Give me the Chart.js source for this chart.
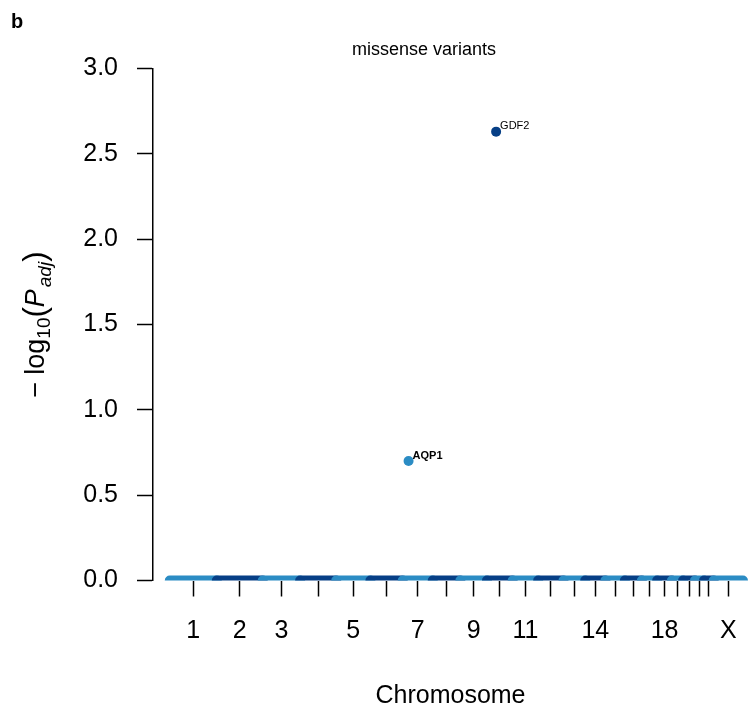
<!DOCTYPE html>
<html>
<head>
<meta charset="utf-8">
<title>missense variants</title>
<script src="https://cdn.jsdelivr.net/npm/chart.js@4"></script>
<style>
    body { margin: 0; background: #fff; }
    #wrap { width: 748px; height: 712px; }
</style>
</head>
<body>
<div id="wrap"><canvas id="manhattan" width="748" height="712"></canvas></div>
<script>
// chromosomes and their lengths (Mb, hg19)
var chromosomes = ['1', '2', '3', '4', '5', '6', '7', '8', '9', '10', '11', '12',
    '13', '14', '15', '16', '17', '18', '19', '20', '21', '22', 'X'];
var chrLengthMb = [249, 243, 198, 191, 181, 171, 159, 146, 141, 136, 135, 134,
    115, 107, 103, 90, 81, 78, 59, 63, 48, 51, 155];
var shownLabels = ['1', '2', '3', '5', '7', '9', '11', '14', '18', 'X'];

// genes that pass the threshold
var geneNames = ['AQP1', 'GDF2'];
var geneChr = ['7', '10'];
var genePosMb = [30.9, 48.4];
var geneLogP = [0.70, 2.63];

var yTicks = [0, 0.5, 1, 1.5, 2, 2.5, 3];

var LIGHT = '#2b8cc4';
var DARK = '#063f86';
var FONT = '"Liberation Sans", Arial, Helvetica, sans-serif';

(function () {
    var chrStart = [];
    var chrMid = [];
    var acc = 0;
    chrLengthMb.forEach(function (len) {
        chrStart.push(acc);
        chrMid.push(acc + len / 2);
        acc += len;
    });

    var colorFor = function (chr) {
        return chromosomes.indexOf(chr) % 2 === 0 ? LIGHT : DARK;
    };

    // every gene with P adj = 1 sits on the baseline, drawn per chromosome
    var baseline = chromosomes.map(function (chr, i) {
        return {
            data: [{ x: chrStart[i], y: 0 }, { x: chrStart[i] + chrLengthMb[i], y: 0 }],
            showLine: true,
            borderColor: colorFor(chr),
            borderWidth: 10,
            borderCapStyle: 'round',
            pointRadius: 0,
            clip: 0,
            order: chromosomes.length - i + 1
        };
    });

    var hits = {
        data: geneNames.map(function (g, i) {
            return { x: chrStart[chromosomes.indexOf(geneChr[i])] + genePosMb[i], y: geneLogP[i] };
        }),
        pointRadius: 5,
        pointBorderWidth: 0,
        pointBackgroundColor: geneChr.map(colorFor),
        clip: 0,
        order: 0
    };

    var noPad = function (scale) {
        scale.paddingLeft = 0;
        scale.paddingRight = 0;
        scale.paddingTop = 0;
        scale.paddingBottom = 0;
    };

    var textPlugin = {
        id: 'manhattanText',
        afterDatasetsDraw: function (chart) {
            var ctx = chart.ctx;
            var area = chart.chartArea;
            var xs = chart.scales.x;
            var ys = chart.scales.y;
            ctx.save();
            ctx.fillStyle = '#000';
            ctx.textBaseline = 'alphabetic';

            // gene labels
            geneNames.forEach(function (g, i) {
                var p = hits.data[i];
                ctx.font = (i === 0 ? 'bold ' : '') + '11px ' + FONT;
                ctx.textAlign = 'left';
                ctx.fillText(g, xs.getPixelForValue(p.x) + 4, ys.getPixelForValue(p.y) - 2.5);
            });

            // panel letter and title
            ctx.font = 'bold 20px ' + FONT;
            ctx.fillText('b', 11, 28);
            ctx.font = '18px ' + FONT;
            ctx.textAlign = 'center';
            ctx.fillText('missense variants', 424, 55);

            // x title
            ctx.font = '25px ' + FONT;
            ctx.fillText('Chromosome', (area.left + area.right) / 2, 703);

            // y title: -log10(P adj)
            var parts = [
                { t: '\u2212', f: '27px ', dy: 0, gap: 7 },
                { t: 'log', f: '27px ', dy: 0 },
                { t: '10', f: '19px ', dy: 6 },
                { t: '(', f: '31px ', dy: 1 },
                { t: 'P', f: 'italic 27px ', dy: 0, gap: 2 },
                { t: 'adj', f: 'italic 19px ', dy: 7 },
                { t: ')', f: '31px ', dy: 1 }
            ];
            var total = 0;
            parts.forEach(function (p) {
                ctx.font = p.f + FONT;
                p.w = ctx.measureText(p.t).width + (p.gap || 0);
                total += p.w;
            });
            ctx.translate(44, (area.top + area.bottom) / 2);
            ctx.rotate(-Math.PI / 2);
            ctx.textAlign = 'left';
            var cx = -total / 2;
            parts.forEach(function (p) {
                ctx.font = p.f + FONT;
                ctx.fillText(p.t, cx, p.dy);
                cx += p.w;
            });
            ctx.restore();
        }
    };

    new Chart(document.getElementById('manhattan'), {
        type: 'scatter',
        data: { datasets: baseline.concat([hits]) },
        options: {
            responsive: false,
            animation: false,
            devicePixelRatio: 1,
            layout: { autoPadding: false, padding: { top: 68.5, right: 0, left: 0, bottom: 0 } },
            plugins: { legend: { display: false }, tooltip: { enabled: false } },
            scales: {
                x: {
                    type: 'linear',
                    min: -88.8,
                    max: 3060.7,
                    afterFit: function (scale) {
                        scale.height = 131.5;
                        noPad(scale);
                    },
                    afterBuildTicks: function (scale) {
                        scale.ticks = chrMid.map(function (v) { return { value: v }; });
                    },
                    border: { display: false },
                    grid: { drawOnChartArea: false, tickLength: 16, color: '#000', tickWidth: 1.5 },
                    ticks: {
                        autoSkip: false,
                        maxRotation: 0,
                        minRotation: 0,
                        padding: 20,
                        color: '#000',
                        font: { family: FONT, size: 25 },
                        callback: function (value, index) {
                            var c = chromosomes[index];
                            return shownLabels.indexOf(c) >= 0 ? c : '';
                        }
                    }
                },
                y: {
                    min: 0,
                    max: 3,
                    afterFit: function (scale) {
                        scale.width = 153;
                        noPad(scale);
                    },
                    afterBuildTicks: function (scale) {
                        scale.ticks = yTicks.map(function (v) { return { value: v }; });
                    },
                    border: { display: true, color: '#000', width: 1.5 },
                    grid: { drawOnChartArea: false, tickLength: 16, color: '#000', tickWidth: 1.5 },
                    ticks: {
                        padding: 19,
                        color: '#000',
                        font: { family: FONT, size: 25 },
                        callback: function (value) { return value.toFixed(1); }
                    }
                }
            }
        },
        plugins: [textPlugin]
    });
})();
</script>
</body>
</html>
